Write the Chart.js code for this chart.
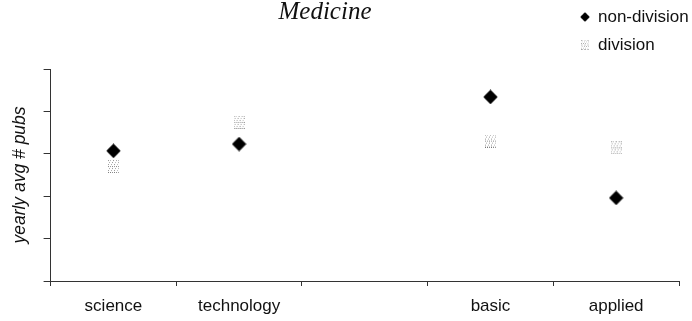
<!DOCTYPE html>
<html>
<head>
<meta charset="utf-8">
<script src="https://cdn.jsdelivr.net/npm/chart.js@4"></script>
<style>
html,body{margin:0;padding:0;background:#fff;}
#wrap{position:relative;width:692px;height:321px;}
</style>
</head>
<body>
<div id="wrap"><canvas id="c" width="692" height="321"></canvas></div>
<script>
const categories = ['science', 'technology', '', 'basic', 'applied'];
const nonDivision = [3.07, 3.23, null, 4.34, 1.96];
const division = [2.70, 3.74, null, 3.30, 3.14];
const yTicks = [0, 1, 2, 3, 4, 5];
const chartTitle = 'Medicine';
const yTitle = 'yearly avg # pubs';
const seriesNames = ['non-division', 'division'];

function diamondCanvas() {
  const c = document.createElement('canvas');
  c.width = 15; c.height = 15;
  const g = c.getContext('2d');
  g.fillStyle = '#000';
  g.beginPath();
  g.moveTo(7.5, 0.3); g.lineTo(14.7, 7.5); g.lineTo(7.5, 14.7); g.lineTo(0.3, 7.5);
  g.closePath(); g.fill();
  return c;
}
function patternCanvas() {
  const c = document.createElement('canvas');
  c.width = 11; c.height = 13;
  const g = c.getContext('2d');
  const dots = [
    [0,0,'#999'],[2,0,'#bbb'],[5,0,'#999'],[8,0,'#aaa'],[10,0,'#bbb'],
    [1,2,'#aaa'],[4,2,'#999'],[7,2,'#bbb'],[10,2,'#aaa'],
    [0,4,'#999'],[3,4,'#aaa'],[6,4,'#999'],[9,4,'#bbb'],
    [0,6,'#888'],[2,6,'#999'],[4,6,'#888'],[6,6,'#999'],[8,6,'#888'],[10,6,'#999'],
    [1,8,'#aaa'],[4,8,'#999'],[7,8,'#aaa'],[10,8,'#bbb'],
    [0,10,'#999'],[3,10,'#aaa'],[6,10,'#999'],[9,10,'#bbb'],
    [0,12,'#777'],[2,12,'#777'],[4,12,'#888'],[6,12,'#777'],[8,12,'#888'],[10,12,'#999']
  ];
  dots.forEach(d => { g.fillStyle = d[2]; g.fillRect(d[0], d[1], 1, 1); });
  return c;
}
const diamond = diamondCanvas();
const pattern = patternCanvas();

const decor = {
  id: 'decor',
  afterDraw(chart) {
    const ctx = chart.ctx;
    ctx.save();
    ctx.fillStyle = '#111';
    ctx.font = 'italic 25px "Liberation Serif", "Times New Roman", serif';
    ctx.textAlign = 'center';
    ctx.textBaseline = 'alphabetic';
    ctx.fillText(chartTitle, 325, 19);
    ctx.font = '17px "Liberation Sans", Arial, sans-serif';
    ctx.textAlign = 'left';
    ctx.textBaseline = 'middle';
    ctx.drawImage(diamond, 585 - 5, 17 - 5, 10, 10);
    ctx.fillText(seriesNames[0], 598, 17);
    ctx.drawImage(pattern, 585 - 4, 45 - 5, 8, 10);
    ctx.fillText(seriesNames[1], 598, 45);
    ctx.restore();
  }
};

new Chart(document.getElementById('c'), {
  type: 'line',
  data: {
    labels: categories,
    datasets: [
      { label: seriesNames[1], data: division, showLine: false, pointStyle: pattern, pointRadius: 6, pointHoverRadius: 6 },
      { label: seriesNames[0], data: nonDivision, showLine: false, pointStyle: diamond, pointRadius: 8, pointHoverRadius: 8 }
    ]
  },
  options: {
    responsive: false,
    animation: false,
    events: [],
    layout: { padding: { left: 9.6, right: 13, top: 69, bottom: 0 } },
    plugins: { legend: { display: false }, title: { display: false }, tooltip: { enabled: false } },
    scales: {
      x: {
        type: 'category',
        offset: true,
        border: { color: '#333', width: 1 },
        grid: { offset: true, drawOnChartArea: false, tickLength: 5, color: '#333' },
        ticks: { color: '#111', padding: 10, font: { family: '"Liberation Sans", Arial, sans-serif', size: 17 }, maxRotation: 0, autoSkip: false },
        afterFit(scale) { scale.height = 40; }
      },
      y: {
        min: yTicks[0], max: yTicks[yTicks.length - 1],
        afterBuildTicks(scale) { scale.ticks = yTicks.map(v => ({ value: v })); },
        border: { color: '#333', width: 1 },
        grid: { drawOnChartArea: false, tickLength: 7, color: '#333' },
        ticks: { display: false },
        title: { display: true, text: yTitle, color: '#111', padding: { top: 0, bottom: 13 },
                 font: { family: '"Liberation Sans", Arial, sans-serif', size: 17.5, style: 'italic' } }
      }
    }
  },
  plugins: [decor]
});
</script>
</body>
</html>
